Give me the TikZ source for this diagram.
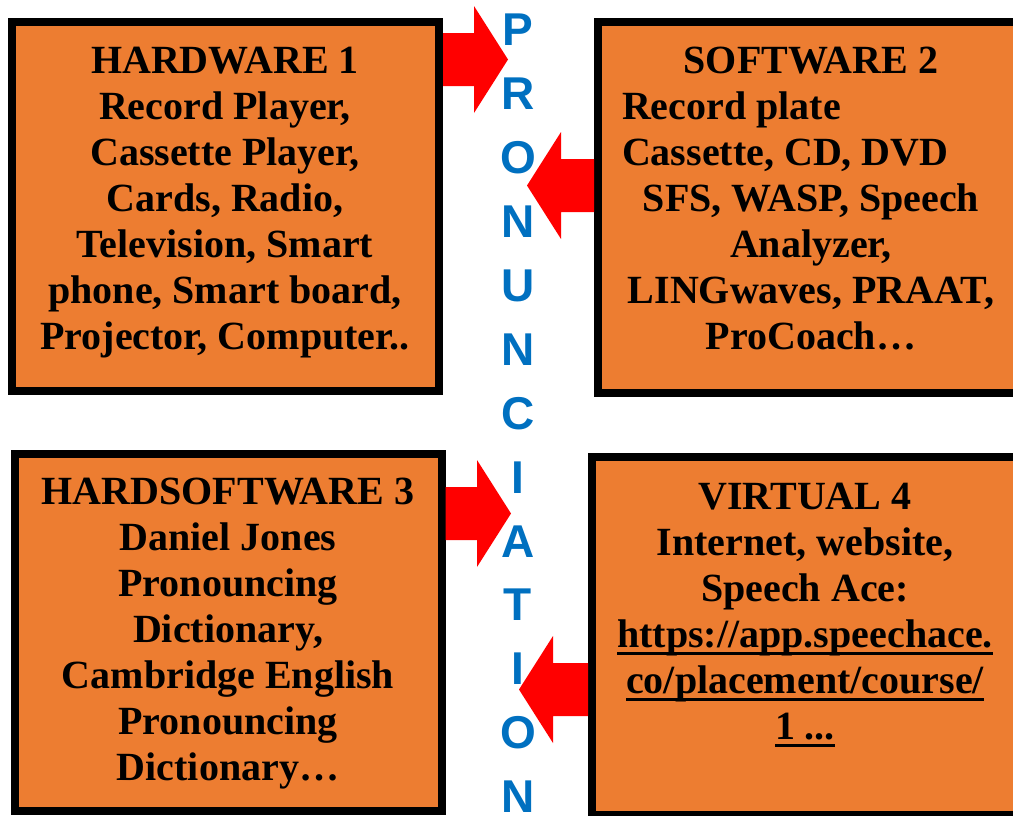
\documentclass[tikz,border=0pt]{standalone}
\usepackage{fontspec}
\setmainfont{Liberation Serif}
\newfontfamily\lettersans{Liberation Sans}
\usetikzlibrary{calc}

\definecolor{boxorange}{HTML}{ED7D31}
\definecolor{letterblue}{HTML}{0070C0}
\definecolor{arrowred}{HTML}{FF0000}

\newsavebox\linkbox
\newcommand\ulink[1]{\sbox\linkbox{#1}\rlap{\rule[-7pt]{\wd\linkbox}{3pt}}\usebox\linkbox}

\begin{document}
\begin{tikzpicture}[x=1pt,y=-1pt]

        \useasboundingbox (0,0) rectangle (1013,815);

        \begin{scope}[every node/.style={draw=black,line width=8pt,fill=boxorange,minimum width=427pt,inner sep=0pt}]
          \node[minimum height=369pt] (hwbox) at (225.5,206.5) {};
          \node[minimum height=371pt] (swbox) at (811.5,207.5) {};
          \node[minimum height=357pt] (hsbox) at (228,632.5)   {};
          \node[minimum height=358pt] (vrbox) at (805.5,636)   {};
        \end{scope}

        \begin{scope}[every node/.style={font=\fontsize{40}{46}\selectfont\bfseries,align=center,inner sep=0pt}]
          \node (hwtext) at (225,203) {HARDWARE 1\\Record Player,\\Cassette Player,\\Cards, Radio,\\Television, Smart\\phone, Smart board,\\Projector, Computer..};
          \node (swtext) at (811,199) {SOFTWARE 2\\\makebox[378pt][l]{Record plate}\\\makebox[378pt][l]{Cassette, CD, DVD}\\SFS, WASP, Speech\\Analyzer,\\LINGwaves, PRAAT,\\ProCoach…};
          \node (hstext) at (228,634) {HARDSOFTWARE 3\\Daniel Jones\\Pronouncing\\Dictionary,\\Cambridge English\\Pronouncing\\Dictionary…};
          \node (vrtext) at (805,615) {VIRTUAL 4\\Internet, website,\\Speech Ace:\\\ulink{https://app.speechace.}\\\ulink{co/placement/course/}\\\ulink{1 ...}};
        \end{scope}

        % block arrows towards the letter column
        \coordinate (hwtip) at (508,59.5);
        \coordinate (swtip) at (527,185.5);
        \coordinate (hstip) at (511,513.5);
        \coordinate (vrtip) at (519,689.5);
        \coordinate (hwtail) at (hwbox.east |- hwtip);
        \coordinate (swtail) at (swbox.west |- swtip);
        \coordinate (hstail) at (hsbox.east |- hstip);
        \coordinate (vrtail) at (vrbox.west |- vrtip);

        \foreach \s/\e in {hwtail/hwtip,swtail/swtip,hstail/hstip,vrtail/vrtip}
          \fill[arrowred] let \p1=(\s), \p2=(\e), \p3=($(\e)!34pt!(\s)$) in
            (\x1,\y1+26.5pt) -- (\x3,\y1+26.5pt) -- (\x3,\y1+53.5pt) -- (\p2)
            -- (\x3,\y1-53.5pt) -- (\x3,\y1-26.5pt) -- (\x1,\y1-26.5pt) -- cycle;

        \begin{scope}[every node/.style={font=\lettersans\bfseries\fontsize{46}{50}\selectfont,text=letterblue,inner sep=0pt}]
          \foreach \ch [count=\k from 0] in {P,R,O,N,U,N,C,I,A,T,I,O,N}
            \node (l\k) at (518,30+63.9*\k) {\ch};
        \end{scope}

      \end{tikzpicture}
\end{document}
